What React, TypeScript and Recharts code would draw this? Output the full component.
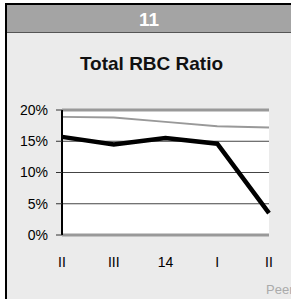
import { CartesianGrid, Line, LineChart, ReferenceLine, XAxis, YAxis } from "recharts";

const periods = ["II", "III", "14", "I", "II"];
const bankRatio = [15.7, 14.5, 15.5, 14.6, 3.5];
const peerRatio = [18.9, 18.8, 18.1, 17.4, 17.2];
const yTicks = [0, 5, 10, 15, 20];

const rows = periods.map((label, i) => ({ label, bank: bankRatio[i], peer: peerRatio[i] }));

const font = "'Liberation Sans', Arial, sans-serif";

export default function App() {
  return (
    <div style={{ position: "absolute", left: 0, top: 0, width: 291, height: 299, background: "#fff", overflow: "hidden", fontFamily: font }}>
      <div
        style={{
          position: "absolute",
          left: 5,
          top: 3,
          width: 300,
          height: 310,
          borderLeft: "2px solid #000",
          borderTop: "2px solid #000",
          background: "#ebebeb",
        }}
      >
        <div style={{ height: 27, background: "#a4a4a4", borderBottom: "1px solid #555" }} />
      </div>
      <div style={{ position: "absolute", left: 0, top: 10, width: 298, textAlign: "center", fontSize: 19, lineHeight: "19px", fontWeight: "bold", color: "#fff" }}>
        11
      </div>
      <div style={{ position: "absolute", left: 0, top: 54, width: 303, textAlign: "center", fontSize: 19, lineHeight: "19px", fontWeight: "bold", color: "#111" }}>
        Total RBC Ratio
      </div>
      <div style={{ position: "absolute", left: 0, top: 0 }}>
        <LineChart width={291} height={299} data={rows} margin={{ top: 110, right: 22, bottom: 34, left: 0 }}>
          <CartesianGrid vertical={false} stroke="#444" fill="#fff" />
          <XAxis
            dataKey="label"
            padding={{ left: 0, right: 0 }}
            axisLine={{ stroke: "#999", strokeWidth: 3 }}
            tickLine={false}
            tickSize={0}
            tickMargin={22}
            height={30}
            tick={{ fill: "#000", fontSize: 14, fontFamily: font }}
          />
          <YAxis
            domain={[0, 20]}
            ticks={yTicks}
            width={62}
            tickFormatter={(v) => `${v}%`}
            axisLine={{ stroke: "#000", strokeWidth: 2 }}
            tickLine={{ stroke: "#333" }}
            tickSize={6}
            tickMargin={8}
            tick={{ fill: "#000", fontSize: 14, fontFamily: font }}
          />
          <YAxis yAxisId="r" orientation="right" domain={[0, 20]} width={0} tick={false} tickLine={false} axisLine={{ stroke: "#999", strokeWidth: 3 }} />
          <ReferenceLine y={20} stroke="#999" strokeWidth={3} />
          <Line dataKey="peer" stroke="#999" strokeWidth={2} dot={false} isAnimationActive={false} />
          <Line dataKey="bank" stroke="#000" strokeWidth={4.5} dot={false} isAnimationActive={false} />
        </LineChart>
      </div>
      <div style={{ position: "absolute", left: 266, top: 282, fontSize: 13, color: "#aaa", whiteSpace: "nowrap" }}>Peer</div>
    </div>
  );
}
